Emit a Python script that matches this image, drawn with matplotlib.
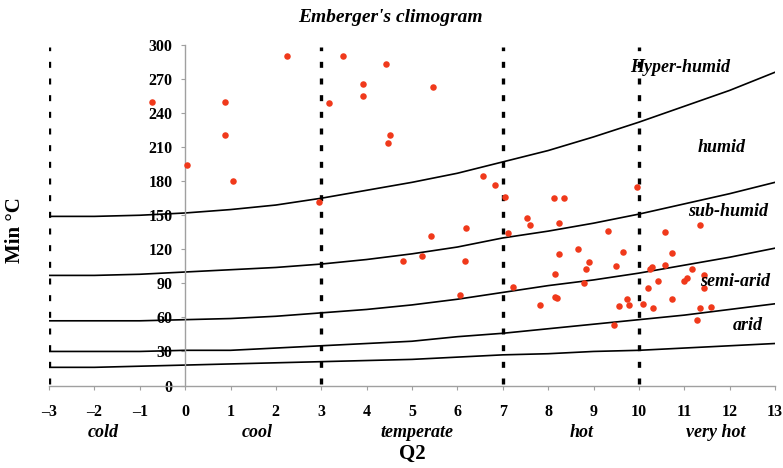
import matplotlib
matplotlib.use("Agg")
import matplotlib.pyplot as plt
import numpy as np

# ---- data ----
curve_x = [-3, -2, -1, 0, 1, 2, 3, 4, 5, 6, 7, 8, 9, 10, 11, 12, 13]
curve_hyper = [149, 149, 150, 152, 155, 159, 165, 172, 179, 187, 197, 207, 219, 232, 246, 260, 276]
curve_humid = [97, 97, 98, 100, 102, 104, 107, 111, 116, 122, 130, 136, 143, 151, 160, 169, 179]
curve_subhumid = [57, 57, 57, 58, 59, 61, 64, 67, 71, 76, 82, 88, 93, 99, 106, 113, 121]
curve_semiarid = [30, 30, 30, 31, 31, 33, 35, 37, 39, 43, 46, 50, 54, 58, 62, 67, 72]
curve_arid = [16, 16, 17, 18, 19, 20, 21, 22, 23, 25, 27, 28, 30, 31, 33, 35, 37]

site_q2 = [-0.72, 0.04, 0.87, 0.87, 1.06, 2.25, 2.96, 3.18, 3.47, 3.93, 3.91, 4.43, 4.52, 4.48,
           5.46, 4.80, 5.22, 5.41, 6.20, 6.17, 6.05, 6.57, 6.84, 7.06, 7.12, 7.22, 7.54, 7.61,
           7.82, 8.12, 8.34, 8.23, 8.23, 8.16, 8.15, 8.20, 8.65, 8.84, 8.90, 8.80, 9.33, 9.50,
           9.66, 9.57, 9.46, 9.74, 9.79, 9.96, 10.10, 10.21, 10.24, 10.29, 10.31, 10.42, 10.58,
           10.58, 10.73, 10.73, 10.99, 11.06, 11.16, 11.35, 11.43, 11.43, 11.35, 11.29, 11.60]
site_min = [250, 194, 250, 221, 180, 290, 162, 249, 290, 266, 255, 283, 221, 214,
            263, 110, 114, 132, 139, 110, 80, 185, 177, 166, 134, 87, 148, 141,
            71, 165, 165, 143, 116, 98, 78, 77, 120, 103, 109, 90, 136, 105,
            118, 70, 53, 76, 71, 175, 72, 86, 103, 104, 68, 92, 135,
            106, 117, 76, 92, 95, 103, 141, 97, 86, 68, 58, 69]

vlines_x = [-3, 3, 7, 10]
xticks = list(range(-3, 14))
yticks = list(range(0, 301, 30))
zone_labels = ["Hyper-humid", "humid", "sub-humid", "semi-arid", "arid"]
zone_label_pos = [(10.9, 280), (11.83, 210), (11.96, 153), (12.12, 92), (12.4, 53)]
temp_labels = ["cold", "cool", "temperate", "hot", "very hot"]
temp_label_x = [-1.8, 1.6, 5.1, 8.74, 11.7]

serif = ["Liberation Serif", "DejaVu Serif"]
plt.rcParams['font.family'] = serif

fig = plt.figure(figsize=(7.83, 4.68), dpi=100)
ax = fig.add_axes([49/783, 1-385.5/468, (775-49)/783, (385.5-45)/468])
ax.set_xlim(-3, 13)
ax.set_ylim(0, 300)

for s in ['top', 'right']:
    ax.spines[s].set_visible(False)
ax.spines['left'].set_position(('data', 0))
ax.spines['bottom'].set_position(('data', 0))
for s in ['left', 'bottom']:
    ax.spines[s].set_color('#a0a0a0')
    ax.spines[s].set_linewidth(1.0)

ax.set_xticks(xticks)
ax.set_xticklabels([str(v).replace('-', '\u2013') for v in xticks])
ax.set_yticks(yticks)
ax.tick_params(axis='x', direction='out', length=3, color='#a0a0a0', pad=10,
               labelsize=11.5)
ax.tick_params(axis='y', direction='out', length=3, color='#a0a0a0', pad=6,
               labelsize=11.5)
for lab in ax.get_xticklabels() + ax.get_yticklabels():
    lab.set_fontweight('bold')

# dashed verticals
for vx in vlines_x:
    ax.plot([vx, vx], [1, 298], color='black', lw=2.4,
            linestyle=(0, (1.8, 3.2)), dash_capstyle='butt', zorder=3)

# curves
for cy in [curve_hyper, curve_humid, curve_subhumid, curve_semiarid, curve_arid]:
    ax.plot(curve_x, cy, color='black', lw=1.2, zorder=2)

ax.scatter(site_q2, site_min, s=22, color='#f0391b', zorder=4, linewidths=0,
           clip_on=False)

for txt, (tx, ty) in zip(zone_labels, zone_label_pos):
    ax.text(tx, ty, txt, ha='center', va='center', fontsize=13,
            fontweight='bold', fontstyle='italic', zorder=5)

for txt, tx in zip(temp_labels, temp_label_x):
    ax.text(tx, -41, txt, ha='center', va='center', fontsize=13,
            fontweight='bold', fontstyle='italic', clip_on=False)

ax.text(5.0, -60, "Q2", ha='center', va='center', fontsize=15,
        fontweight='bold', clip_on=False)

fig.text(15/783, 1-230/468, "Min °C", rotation=90, ha='center', va='center',
         fontsize=15, fontweight='bold')
fig.text(390/783, 1-18/468, "Emberger's climogram", ha='center', va='center',
         fontsize=14, fontweight='bold', fontstyle='italic')

fig.savefig("out.png", dpi=100)
